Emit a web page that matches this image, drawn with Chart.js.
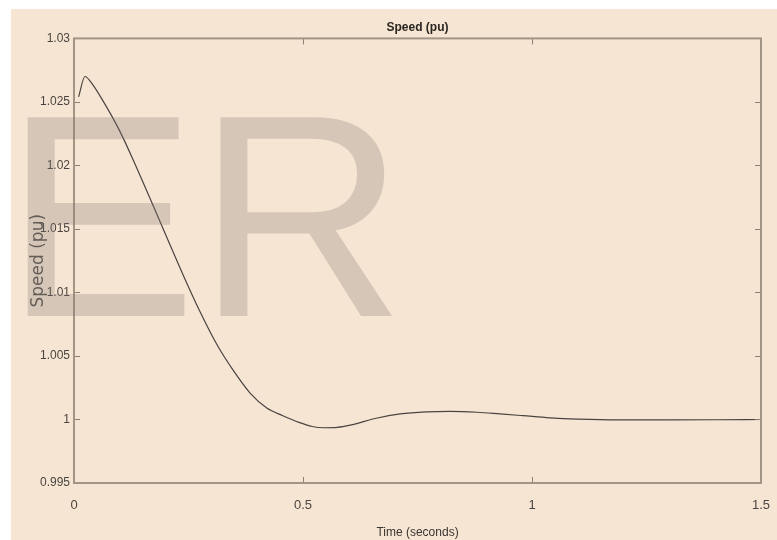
<!DOCTYPE html>
<html>
<head>
<meta charset="utf-8">
<script src="https://cdn.jsdelivr.net/npm/chart.js@4/dist/chart.umd.min.js"></script>
<style>
    html, body { margin: 0; padding: 0; background: #ffffff; }
    #wrap { width: 777px; height: 540px; }
</style>
</head>
<body>
<div id="wrap"><canvas id="speedChart" width="777" height="540"></canvas></div>
<script>
// Rotor speed response
const timeSec = [0.01, 0.024, 0.04, 0.063, 0.1, 0.137, 0.172, 0.203, 0.238, 0.275,
    0.312, 0.347, 0.384, 0.421, 0.456, 0.493, 0.52, 0.545, 0.575, 0.603,
    0.66, 0.712, 0.77, 0.821, 0.88, 0.93, 0.98, 1.039, 1.1, 1.192,
    1.3, 1.4, 1.5];
const speedPu = [1.0254, 1.0270, 1.0264, 1.0251, 1.0227, 1.0198, 1.0169, 1.0143, 1.0114, 1.0085,
    1.0059, 1.0039, 1.0021, 1.0009, 1.0003, 0.99975, 0.99945, 0.99935, 0.99938, 0.99955,
    1.0001, 1.00044, 1.0006, 1.00064, 1.00057, 1.00044, 1.0003, 1.00013, 1.00003, 0.99997,
    0.99997, 0.99998, 1.0];

const xTicks = [0, 0.5, 1, 1.5];
const yTicks = [0.995, 1, 1.005, 1.01, 1.015, 1.02, 1.025, 1.03];

const chartTitle = 'Speed (pu)';
const xTitle = 'Time (seconds)';
const yTitle = 'Speed (pu)';
const watermark = 'ER';

const sans = "'Liberation Sans', Arial, sans-serif";

// beige figure background, plot box, inward ticks, watermark
const figurePlugin = {
    id: 'figure',
    beforeDraw(chart) {
        const ctx = chart.ctx;
        ctx.save();
        ctx.fillStyle = '#f6e5d3';
        ctx.fillRect(11, 9, chart.width - 11, chart.height - 9);
        ctx.restore();
    },
    afterDatasetsDraw(chart) {
        const ctx = chart.ctx;
        const a = chart.chartArea;
        const xs = chart.scales.x;
        const ys = chart.scales.y;
        ctx.save();
        ctx.strokeStyle = '#8c7f72';
        ctx.lineWidth = 1;
        ctx.beginPath();
        xs.ticks.forEach((t, i) => {
            const px = Math.round(xs.getPixelForTick(i)) + 0.5;
            ctx.moveTo(px, a.bottom); ctx.lineTo(px, a.bottom - 6);
            ctx.moveTo(px, a.top); ctx.lineTo(px, a.top + 6);
        });
        ys.ticks.forEach((t, i) => {
            const py = Math.round(ys.getPixelForTick(i)) + 0.5;
            ctx.moveTo(a.left, py); ctx.lineTo(a.left + 6, py);
            ctx.moveTo(a.right, py); ctx.lineTo(a.right - 6, py);
        });
        ctx.stroke();
        ctx.strokeStyle = '#a39586';
        ctx.lineWidth = 2;
        ctx.strokeRect(a.left, a.top, a.right - a.left, a.bottom - a.top);
        ctx.restore();
    },
    afterDraw(chart) {
        const ctx = chart.ctx;
        ctx.save();
        ctx.font = "289px 'Liberation Sans', Arial, sans-serif";
        ctx.fillStyle = 'rgba(130, 120, 110, 0.28)';
        ctx.textBaseline = 'alphabetic';
        ctx.textAlign = 'left';
        ctx.fillText(watermark, 4, 316);
        ctx.restore();
    }
};

const points = timeSec.map((t, i) => ({ x: t, y: speedPu[i] }));

new Chart(document.getElementById('speedChart'), {
    type: 'line',
    data: {
        datasets: [{
            label: yTitle,
            data: points,
            borderColor: '#4a4440',
            borderWidth: 1.2,
            pointRadius: 0,
            fill: false,
            cubicInterpolationMode: 'monotone'
        }]
    },
    options: {
        responsive: false,
        animation: false,
        layout: { padding: { left: 0, top: 0, right: 16, bottom: 0 } },
        plugins: {
            legend: { display: false },
            tooltip: { enabled: false },
            title: {
                display: true,
                fullSize: false,
                text: chartTitle,
                color: '#2a2520',
                font: { family: sans, size: 12, weight: 'bold' },
                padding: { top: 20, bottom: 4 }
            }
        },
        scales: {
            x: {
                type: 'linear',
                min: 0,
                max: 1.5,
                afterBuildTicks: (scale) => { scale.ticks = xTicks.map(v => ({ value: v })); },
                afterFit: (scale) => {
                    scale.height = 57;
                    scale.paddingLeft = 0;
                    scale.paddingRight = 0;
                },
                grid: { display: false, drawTicks: false },
                border: { display: false },
                ticks: {
                    color: '#4a4540',
                    padding: 15,
                    maxRotation: 0,
                    font: { family: sans, size: 13 },
                    callback: (v) => String(+Number(v).toFixed(3))
                },
                title: {
                    display: true,
                    text: xTitle,
                    color: '#3a3530',
                    font: { family: sans, size: 12 },
                    padding: { top: 0, bottom: 0 }
                }
            },
            y: {
                type: 'linear',
                min: 0.995,
                max: 1.03,
                afterBuildTicks: (scale) => { scale.ticks = yTicks.map(v => ({ value: v })); },
                afterFit: (scale) => { scale.width = 74; },
                grid: { display: false, drawTicks: false },
                border: { display: false },
                ticks: {
                    color: '#4a4540',
                    padding: 4,
                    font: { family: sans, size: 12 },
                    callback: (v) => String(+Number(v).toFixed(3))
                },
                title: {
                    display: true,
                    text: yTitle,
                    color: '#5a5550',
                    font: { family: "'DejaVu Sans', sans-serif", size: 17 },
                    padding: { top: 28, bottom: 0 }
                }
            }
        }
    },
    plugins: [figurePlugin]
});
</script>
</body>
</html>
